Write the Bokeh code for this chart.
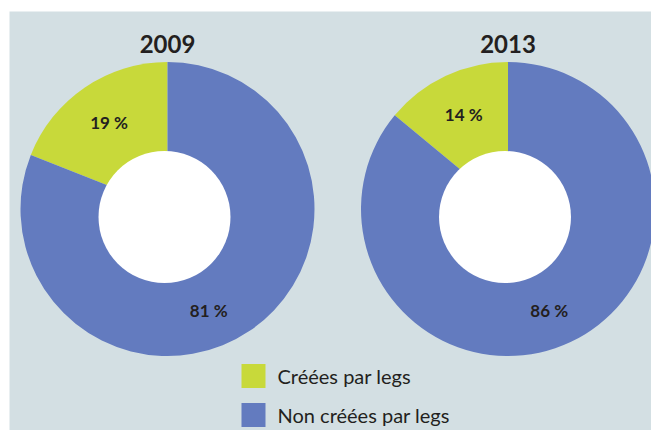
import math
from bokeh.plotting import figure
from bokeh.models import Range1d, ColumnDataSource
from bokeh.core.properties import value
from bokeh.embed import file_html
from bokeh.resources import INLINE

# ---- data ----
years = ["2009", "2013"]
categories = ["Créées par legs", "Non créées par legs"]
share_legs = [19, 14]        # % créées par legs
share_non_legs = [81, 86]    # % non créées par legs
colors = ["#c8d93a", "#637bbf"]

BG = "#d3dfe3"
TXT = "#231f20"
FONT = "Lato"

# layout (reference pixel coordinates; y measured from top)
centers_x = [167, 507.5]
center_y = 208.5
R = 147
hole_dx, hole_dy, hole_r = -3, 8, 66

def Y(y):
    return 430 - y

p = figure(width=651, height=430, output_backend="svg", toolbar_location=None,
           x_range=Range1d(9, 651), y_range=Range1d(0, 419),
           min_border_left=9, min_border_right=0, min_border_top=11, min_border_bottom=0)
p.background_fill_color = BG
p.border_fill_color = "white"
p.outline_line_color = None
p.xaxis.visible = False
p.yaxis.visible = False
p.xgrid.visible = False
p.ygrid.visible = False

wx, wy, ws, we, wc = [], [], [], [], []
lx, ly, lt = [], [], []
for i, yr in enumerate(years):
    vals = [share_legs[i], share_non_legs[i]]
    total = sum(vals)
    cum = 0.0
    for j, v in enumerate(vals):
        a0 = math.pi / 2 + 2 * math.pi * cum / total
        cum += v
        a1 = math.pi / 2 + 2 * math.pi * cum / total
        wx.append(centers_x[i]); wy.append(Y(center_y))
        ws.append(a0); we.append(a1); wc.append(colors[j])
        if j == 0:
            mid = (a0 + a1) / 2
            r = 104
        else:
            mid = math.pi / 2 + math.radians(360 - 158)
            r = 110
        lx.append(centers_x[i] + r * math.cos(mid))
        ly.append(Y(center_y) + r * math.sin(mid))
        lt.append(f"{v} %")

p.wedge(x="x", y="y", radius=R, start_angle="s", end_angle="e", color="c",
        line_color=None, source=ColumnDataSource(dict(x=wx, y=wy, s=ws, e=we, c=wc)))
p.circle(x=[cx + hole_dx for cx in centers_x], y=[Y(center_y + hole_dy)] * 2,
         radius=hole_r, fill_color="white", line_color=None)

p.text(x=lx, y=ly, text=lt, text_font=value(FONT), text_font_style="bold",
       text_font_size="17px", text_color=TXT, text_align="center", text_baseline="middle")

p.text(x=centers_x, y=[Y(43)] * 2, text=years, text_font=value(FONT), text_font_style="bold",
       text_font_size="24px", text_color=TXT, text_align="center", text_baseline="middle")

# legend
leg_y = [375.5, 414.5]
p.rect(x=[253] * 2, y=[Y(v) for v in leg_y], width=24, height=24, color=colors, line_color=None)
p.text(x=[277] * 2, y=[Y(v) for v in leg_y], text=categories, text_font=value(FONT),
       text_font_size="20px", text_color=TXT, text_align="left", text_baseline="middle")

open("out.html", "w").write(file_html(p, INLINE))
